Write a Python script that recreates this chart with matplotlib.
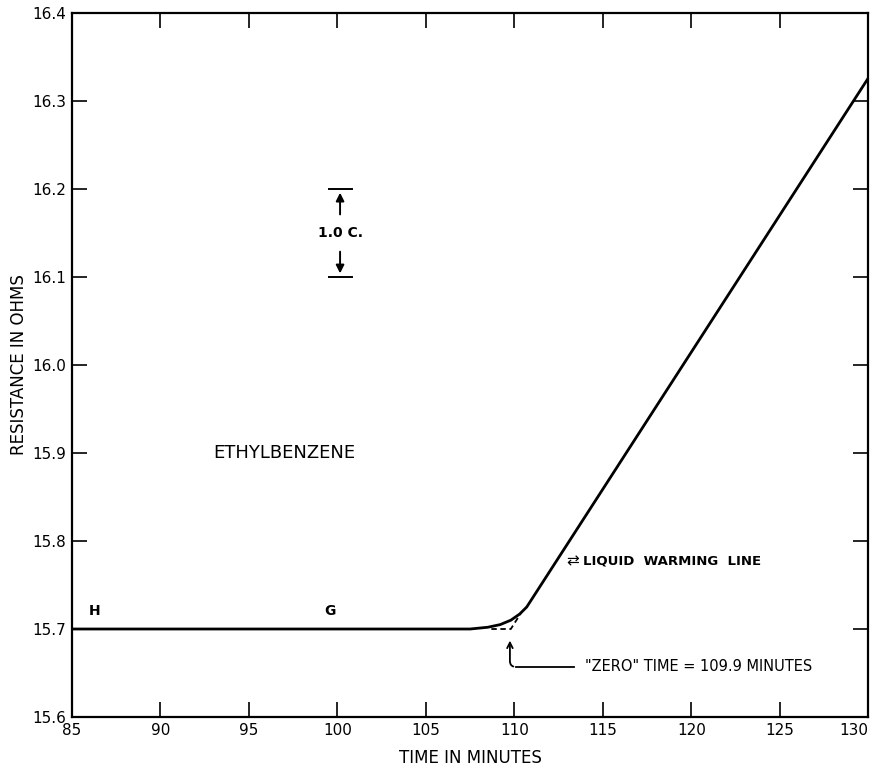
import numpy as np
import matplotlib.pyplot as plt

# data
time_min = [85.0, 107.5, 108.5, 109.2, 109.8, 110.3, 110.7, 130.0]
resistance = [15.700, 15.700, 15.702, 15.705, 15.710, 15.717, 15.725, 16.326]

# extrapolation to "zero" time (dashed)
dash_t = [108.7, 109.8, 110.4]
dash_r = [15.700, 15.700, 15.719]

x_ticks = [85, 90, 95, 100, 105, 110, 115, 120, 125, 130]
y_ticks = [15.6, 15.7, 15.8, 15.9, 16.0, 16.1, 16.2, 16.3, 16.4]

plt.rcParams['font.family'] = ['DejaVu Sans']

fig = plt.figure(figsize=(8.73, 7.68), dpi=100)
ax = fig.add_axes([0.0825, 0.0664, 0.912, 0.9166])

ax.plot(time_min, resistance, color='black', linewidth=2)
ax.plot(dash_t, dash_r, color='black', linewidth=1.3, linestyle=(0, (3, 2)))

ax.set_xlim(85, 130)
ax.set_ylim(15.6, 16.4)
ax.set_xticks(x_ticks)
ax.set_yticks(y_ticks)
ax.set_xticklabels([str(t) for t in x_ticks])
ax.set_yticklabels([f'{v:.1f}' for v in y_ticks])
ax.tick_params(direction='in', length=11, width=1.2, top=True, right=True,
               labelsize=11, pad=4)
# last x label sits against the right edge
ax.get_xticklabels()[-1].set_horizontalalignment('right')
for s in ax.spines.values():
    s.set_linewidth(1.6)

ax.set_xlabel('TIME IN MINUTES', fontsize=12, labelpad=8)
ax.set_ylabel('RESISTANCE IN OHMS', fontsize=12, labelpad=3)

# labels on the plot
ax.text(86.3, 15.72, 'H', fontsize=10, fontweight='bold', ha='center', va='center')
ax.text(99.6, 15.72, 'G', fontsize=10, fontweight='bold', ha='center', va='center')
ax.text(97.0, 15.9, 'ETHYLBENZENE', fontsize=13, ha='center', va='center')

# 1.0 C. scale bar
ax.plot([99.5, 100.8], [16.2, 16.2], color='black', linewidth=1.4)
ax.plot([99.5, 100.8], [16.1, 16.1], color='black', linewidth=1.4)
ax.annotate('', xy=(100.15, 16.199), xytext=(100.15, 16.168),
            arrowprops=dict(arrowstyle='-|>', color='black', lw=1.4, mutation_scale=12))
ax.annotate('', xy=(100.15, 16.101), xytext=(100.15, 16.132),
            arrowprops=dict(arrowstyle='-|>', color='black', lw=1.4, mutation_scale=12))
ax.text(100.15, 16.15, '1.0 C.', fontsize=10, fontweight='bold', ha='center', va='center')

# liquid warming line
ax.text(113.3, 15.778, '⇄', fontsize=11, ha='center', va='center')
ax.text(113.9, 15.777, 'LIQUID  WARMING  LINE', fontsize=9.5, fontweight='bold',
        ha='left', va='center')

# zero time pointer
ax.plot([113.4, 110.1], [15.657, 15.657], color='black', linewidth=1.3)
ax.annotate('', xy=(109.75, 15.69), xytext=(110.1, 15.657),
            arrowprops=dict(arrowstyle='->', color='black', lw=1.3,
                            connectionstyle='angle,angleA=0,angleB=90,rad=6'))
ax.text(114.0, 15.657, '"ZERO" TIME = 109.9 MINUTES', fontsize=10.5,
        ha='left', va='center')

fig.savefig('out.png', dpi=100)
